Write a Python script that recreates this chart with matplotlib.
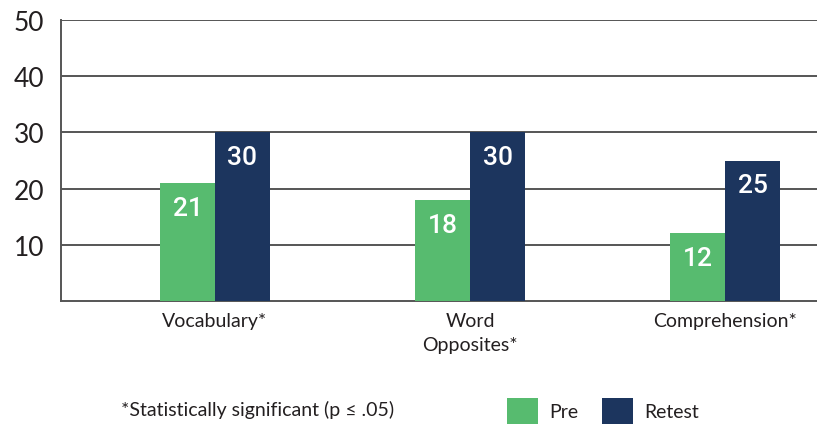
import matplotlib.pyplot as plt
import numpy as np
from matplotlib.patches import Patch

# data
categories = ['Vocabulary*', 'Word\nOpposites*', 'Comprehension*']
pre = [21, 18, 12]
retest = [30, 30, 25]
series_names = ['Pre', 'Retest']
y_ticks = [10, 20, 30, 40, 50]
footnote = '*Statistically significant (p \u2264 .05)'

green = '#57bb6f'
navy = '#1c355e'
grid_c = '#555555'
txt_c = '#231f20'

plt.rcParams['font.family'] = ['Lato', 'DejaVu Sans']

fig = plt.figure(figsize=(8.17, 4.27), dpi=100)
ax = fig.add_axes([61 / 817, 1 - 301.7 / 427, 1 - 61 / 817, (301.7 - 21.3) / 427])

x = np.arange(len(categories))
w = 0.215
b1 = ax.bar(x - w / 2, pre, w, color=green, zorder=3)
b2 = ax.bar(x + w / 2, retest, w, color=navy, zorder=3)

# value labels inside bars
for bars, vals in ((b1, pre), (b2, retest)):
    for r, v in zip(bars, vals):
        ax.annotate(str(v), (r.get_x() + r.get_width() / 2, v),
                    xytext=(0, -18), textcoords='offset points',
                    ha='center', va='center', color='white', fontsize=19,
                    weight='medium', family=['Roboto', 'DejaVu Sans'], zorder=4)

ax.set_xlim(-0.604, 2.36)
ax.set_ylim(0, 50)
ax.set_yticks(y_ticks)
ax.set_xticks(x)
ax.set_xticklabels(categories, fontsize=14, color=txt_c, linespacing=1.5, va='top')
ax.tick_params(axis='y', length=0, pad=12, labelsize=19, labelcolor=txt_c)
ax.tick_params(axis='x', length=0, pad=8)

ax.grid(axis='y', color=grid_c, linewidth=1.4, zorder=1)
for s in ('top', 'right'):
    ax.spines[s].set_visible(False)
for s in ('left', 'bottom'):
    ax.spines[s].set_color(grid_c)
    ax.spines[s].set_linewidth(1.4)

fig.text(121 / 817, 1 - 410 / 427, footnote, fontsize=14, color=txt_c,
         ha='left', va='center')

handles = [Patch(facecolor=green), Patch(facecolor=navy)]
fig.legend(handles, series_names, loc='center left', ncol=2,
           bbox_to_anchor=(489 / 817, 1 - 412 / 427), frameon=False,
           fontsize=14, handlelength=1.6, handleheight=1.7,
           handletextpad=0.6, columnspacing=1.2, labelcolor=txt_c)

fig.savefig('out.png', dpi=100)
